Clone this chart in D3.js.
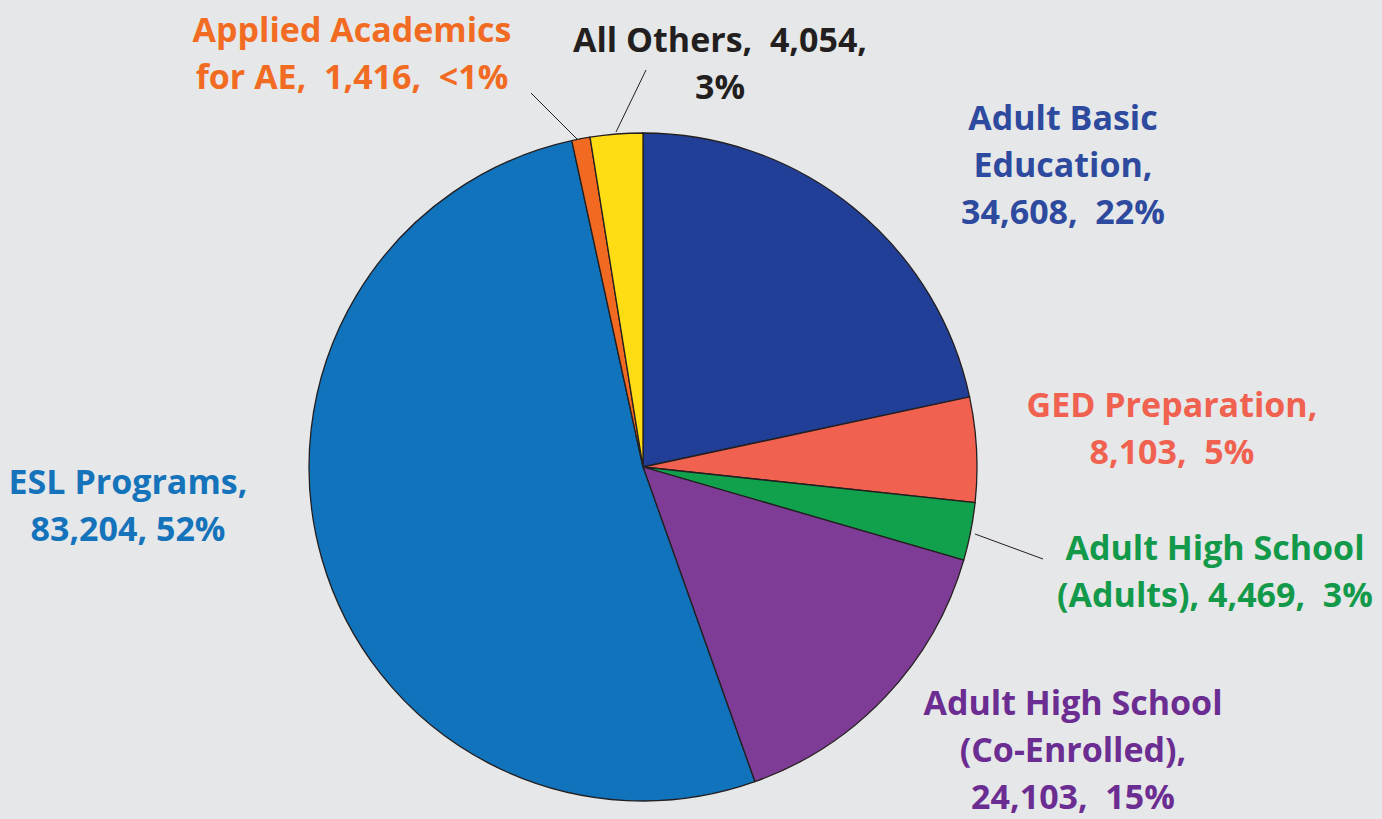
<!DOCTYPE html>
<html lang="en">
<head>
    <meta charset="UTF-8">
    <title>Enrollment pie</title>
    <script src="https://cdn.jsdelivr.net/npm/d3@7/dist/d3.min.js"></script>
    <style>
        body { margin: 0; background: #e6e7e8; }
        svg { display: block; }
        .lbl text {
            font-family: "Open Sans", Lato, sans-serif;
            font-weight: bold;
            font-size: 34px;
            white-space: pre;
        }
    </style>
</head>
<body>
<script>
    const width = 1382;
    const height = 819;

    // data
    const categories = ['Adult Basic Education', 'GED Preparation', 'Adult High School (Adults)',
        'Adult High School (Co-Enrolled)', 'ESL Programs', 'Applied Academics for AE', 'All Others'];
    const values = [34608, 8103, 4469, 24103, 83204, 1416, 4054];
    const labelLines = [
        ['Adult Basic', 'Education,', '34,608,  22%'],
        ['GED Preparation,', '8,103,  5%'],
        ['Adult High School', '(Adults), 4,469,  3%'],
        ['Adult High School', '(Co-Enrolled),', '24,103,  15%'],
        ['ESL Programs,', '83,204, 52%'],
        ['Applied Academics', 'for AE,  1,416,  <1%'],
        ['All Others,  4,054,', '3%']
    ];
    const fills = ['#223f98', '#f06150', '#11a04b', '#7e3c96', '#1073bb', '#f26a21', '#ffdd15'];
    const textColors = ['#2e4a9e', '#f06150', '#129a4a', '#6b2d91', '#1473ba', '#f26b22', '#231f20'];

    // label anchor (centre of first line) and leader lines, in pixels
    const labelPos = [[1063, 118], [1172, 405], [1215, 548], [1073, 703], [128, 482], [352, 30], [720, 40]];
    const leaders = {2: [[975, 534], [1043, 559]], 5: [[578, 140], [531, 93]], 6: [[616, 132], [646, 70]]};

    const cx = 643, cy = 467, r = 334;

    let svg = d3.select('body').append('svg')
        .attr('width', width)
        .attr('height', height);

    let pie = d3.pie().sort(null).value(d => d);
    let arc = d3.arc().innerRadius(0).outerRadius(r);

    let g = svg.append('g').attr('transform', `translate(${cx},${cy})`);
    g.selectAll('path')
        .data(pie(values))
        .enter()
        .append('path')
        .attr('d', arc)
        .attr('fill', (d, i) => fills[i])
        .attr('stroke', '#231f20')
        .attr('stroke-width', 1.3);

    // leader lines
    Object.keys(leaders).forEach(k => {
        let l = leaders[k];
        svg.append('line')
            .attr('x1', l[0][0]).attr('y1', l[0][1])
            .attr('x2', l[1][0]).attr('y2', l[1][1])
            .attr('stroke', '#231f20')
            .attr('stroke-width', 1);
    });

    // labels
    let lbl = svg.append('g').attr('class', 'lbl');
    labelLines.forEach((lines, i) => {
        let t = lbl.append('text')
            .attr('text-anchor', 'middle')
            .attr('fill', textColors[i]);
        lines.forEach((s, j) => {
            t.append('tspan')
                .attr('x', labelPos[i][0])
                .attr('y', labelPos[i][1] + j * 47)
                .attr('dy', '0.35em')
                .text(s);
        });
    });
</script>
</body>
</html>
